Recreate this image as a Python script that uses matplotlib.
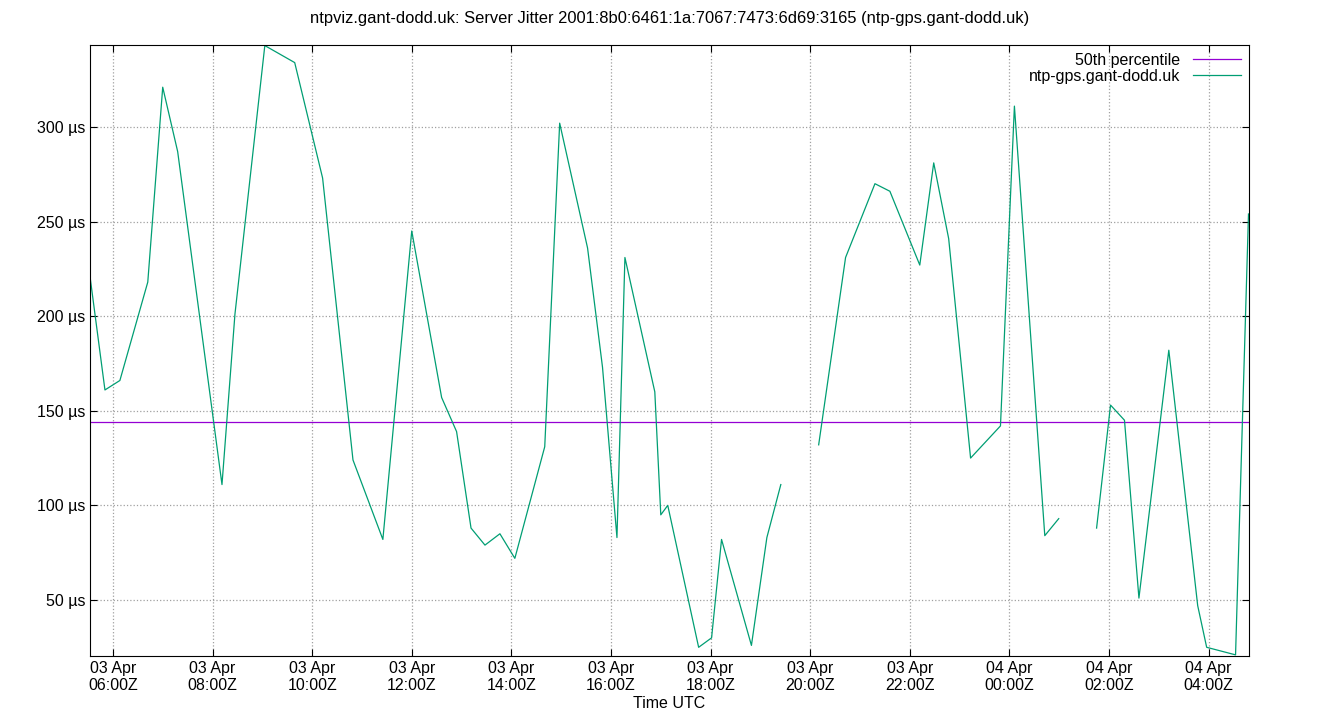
import matplotlib
matplotlib.use("Agg")
import matplotlib.pyplot as plt
import matplotlib.dates as mdates
import numpy as np
from datetime import datetime, timedelta

plt.rcParams['font.family'] = ['Liberation Sans', 'DejaVu Sans']

# hours after 2025-04-03 06:00Z, jitter in microseconds (NaN = gap in data)
hours = [-0.46, -0.16, 0.14, 0.70, 1.00, 1.30, 2.19, 2.45, 3.05, 3.65, 4.21, 4.82,
         5.42, 6.00, 6.60, 6.90, 7.19, 7.47, 7.77, 8.07, 8.67, 8.97, 9.53, 9.83,
         10.12, 10.28, 10.88, 11.00, 11.14, 11.76, 12.02, 12.22, 12.82, 13.13, 13.41,
         13.85,
         14.17, 14.71, 15.30, 15.60, 16.20, 16.48, 16.78, 17.22, 17.82, 18.10, 18.71, 18.99,
         19.37,
         19.75, 20.03, 20.31, 20.60, 21.20, 21.78, 21.96, 22.54, 22.80]
jitter = [221, 161, 166, 218, 321, 287, 111, 201, 343, 334, 273, 124,
          82, 245, 157, 139, 88, 79, 85, 72, 131, 302, 236, 173,
          83, 231, 160, 95, 100, 25, 30, 82, 26, 83, 111,
          np.nan,
          132, 231, 270, 266, 227, 281, 241, 125, 142, 311, 84, 93,
          np.nan,
          88, 153, 145, 51, 182, 47, 25, 21, 254]
median = 144

start = datetime(2025, 4, 3, 6, 0)
times = [start + timedelta(hours=h) for h in hours]

fig = plt.figure(figsize=(13.4, 7.2), dpi=100)
ax = fig.add_axes([90/1340, 1 - 656/720, (1249 - 90)/1340, (656 - 45)/720])

ax.axhline(median, color='#9400d3', lw=0.9, label='50th percentile')
ax.plot(times, jitter, color='#009e73', lw=0.9, label='ntp-gps.gant-dodd.uk')

ax.set_xlim(start + timedelta(hours=-0.46), start + timedelta(hours=22.81))
ax.set_ylim(20.4, 343.3)
ax.set_yticks([50, 100, 150, 200, 250, 300])
ax.set_yticklabels([f'{v} µs' for v in [50, 100, 150, 200, 250, 300]])
ax.xaxis.set_major_locator(mdates.HourLocator(byhour=range(0, 24, 2)))
ax.xaxis.set_major_formatter(mdates.DateFormatter('%d %b\n%H:%MZ'))

ax.grid(color='#a0a0a0', linestyle=':', lw=0.9)
ax.tick_params(direction='in', top=True, right=True, labelsize=11.5, length=5)
for s in ax.spines.values():
    s.set_linewidth(0.8)

ax.set_xlabel('Time UTC', fontsize=11.5, labelpad=2)
fig.suptitle('ntpviz.gant-dodd.uk: Server Jitter 2001:8b0:6461:1a:7067:7473:6d69:3165 (ntp-gps.gant-dodd.uk)',
             y=0.985, fontsize=11.9)
ax.legend(loc='upper right', frameon=False, markerfirst=False, fontsize=11.5,
          handlelength=3, borderaxespad=0.1, labelspacing=0.05)

fig.savefig('out.png', dpi=100)
